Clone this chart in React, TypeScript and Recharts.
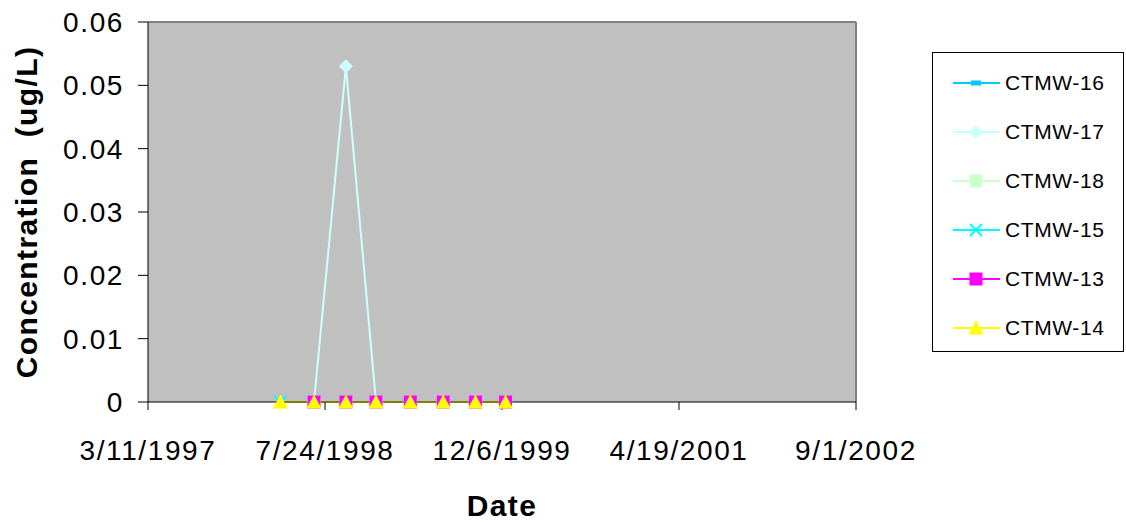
import React from "react";
import {
  LineChart,
  Line,
  XAxis,
  YAxis,
  CartesianGrid,
  Legend,
  ReferenceLine,
} from "recharts";

const FONT = '"Liberation Sans", Arial, sans-serif';

// sampling dates (quarterly)
const dates = [
  "3/20/1998",
  "6/23/1998",
  "9/21/1998",
  "12/15/1998",
  "3/22/1999",
  "6/23/1999",
  "9/22/1999",
  "12/16/1999",
];

const ctmw16 = [null, 0, 0, 0, 0, 0, 0, 0];
const ctmw17 = [null, 0, 0.053, 0, 0, 0, 0, 0];
const ctmw18 = [null, 0, 0, 0, 0, 0, 0, 0];
const ctmw15 = [0, 0, 0, 0, 0, 0, 0, 0];
const ctmw13 = [null, 0, 0, 0, 0, 0, 0, 0];
const ctmw14 = [0, 0, 0, 0, 0, 0, 0, 0];

const xTickLabels = ["3/11/1997", "7/24/1998", "12/6/1999", "4/19/2001", "9/1/2002"];
const yTicks = [0, 0.01, 0.02, 0.03, 0.04, 0.05, 0.06];

const toTime = (s: string) => {
  const [m, d, y] = s.split("/").map(Number);
  return Date.UTC(y, m - 1, d);
};

const fmtDate = (t: number) => {
  const d = new Date(t);
  return `${d.getUTCMonth() + 1}/${d.getUTCDate()}/${d.getUTCFullYear()}`;
};

const xTicks = xTickLabels.map(toTime);

const series = [
  { key: "CTMW-16", values: ctmw16, color: "#00CCFF", shape: "dash" },
  { key: "CTMW-17", values: ctmw17, color: "#CCFFFF", shape: "diamond" },
  { key: "CTMW-18", values: ctmw18, color: "#CCFFCC", shape: "square" },
  { key: "CTMW-15", values: ctmw15, color: "#00FFFF", shape: "cross" },
  { key: "CTMW-13", values: ctmw13, color: "#FF00FF", shape: "square" },
  { key: "CTMW-14", values: ctmw14, color: "#FFFF00", shape: "triangle" },
];

const data = dates.map((d, i) => {
  const row: Record<string, number | null> = { date: toTime(d) };
  series.forEach((s) => {
    row[s.key] = s.values[i];
  });
  return row;
});

function Marker({ shape, color, cx, cy }: { shape: string; color: string; cx: number; cy: number }) {
  switch (shape) {
    case "dash":
      return <rect x={cx - 5} y={cy - 2.5} width={10} height={5} fill={color} />;
    case "diamond":
      return (
        <polygon
          points={`${cx},${cy - 7} ${cx + 7},${cy} ${cx},${cy + 7} ${cx - 7},${cy}`}
          fill={color}
        />
      );
    case "square":
      return <rect x={cx - 6.5} y={cy - 6.5} width={13} height={13} fill={color} />;
    case "cross":
      return (
        <g stroke={color} strokeWidth={2}>
          <line x1={cx - 6} y1={cy - 6} x2={cx + 6} y2={cy + 6} />
          <line x1={cx - 6} y1={cy + 6} x2={cx + 6} y2={cy - 6} />
        </g>
      );
    case "triangle":
      return (
        <polygon
          points={`${cx},${cy - 7.5} ${cx + 7.5},${cy + 6.5} ${cx - 7.5},${cy + 6.5}`}
          fill={color}
        />
      );
    default:
      return null;
  }
}

const makeDot = (shape: string, color: string) => (props: any) => {
  const { cx, cy, key, index } = props;
  if (cx == null || cy == null || props.value == null) return <g key={key ?? index} />;
  return (
    <g key={key ?? index}>
      <Marker shape={shape} color={color} cx={cx} cy={cy} />
    </g>
  );
};

const YLabel = (props: any) => {
  const vb = props.viewBox || { x: 0, y: 22, width: 148, height: 380 };
  const cx = 26;
  const cy = vb.y + vb.height / 2;
  return (
    <text
      x={cx}
      y={cy}
      transform={`rotate(-90 ${cx} ${cy})`}
      textAnchor="middle"
      dominantBaseline="central"
      fontFamily={FONT}
      fontWeight="bold"
      fontSize={30}
      letterSpacing={1.4}
      fill="#000"
      style={{ whiteSpace: "pre" }}
    >
      Concentration  (ug/L)
    </text>
  );
};

const XLabel = (props: any) => {
  const vb = props.viewBox || { x: 148, y: 402, width: 708, height: 120 };
  return (
    <text
      x={vb.x + vb.width / 2}
      y={516}
      textAnchor="middle"
      fontFamily={FONT}
      fontWeight="bold"
      fontSize={30}
      letterSpacing={1.4}
      fill="#000"
    >
      Date
    </text>
  );
};

const renderLegend = () => (
  <div
    style={{
      width: 192,
      height: 300,
      border: "1px solid #000",
      boxSizing: "border-box",
      position: "relative",
      background: "#fff",
      fontFamily: FONT,
      fontSize: 21,
      color: "#000",
    }}
  >
    {series.map((s, i) => (
      <div
        key={s.key}
        style={{
          position: "absolute",
          left: 20,
          top: 30 + i * 49 - 12,
          height: 24,
          display: "flex",
          alignItems: "center",
          whiteSpace: "nowrap",
        }}
      >
        <svg width={48} height={24} style={{ display: "block" }}>
          <line x1={0} y1={12} x2={47} y2={12} stroke={s.color} strokeWidth={2} />
          <Marker shape={s.shape} color={s.color} cx={23} cy={12} />
        </svg>
        <span style={{ marginLeft: 4, letterSpacing: 0.6 }}>{s.key}</span>
      </div>
    ))}
  </div>
);

export default function App() {
  return (
    <div style={{ position: "absolute", left: 0, top: 0, width: 1126, height: 522, background: "#fff" }}>
      <LineChart
        width={1126}
        height={522}
        data={data}
        margin={{ top: 22, right: 78, bottom: 0, left: 0 }}
      >
        <CartesianGrid fill="#C0C0C0" horizontal={false} vertical={false} />
        <ReferenceLine y={0.06} stroke="#808080" strokeWidth={2} />
        <ReferenceLine x={xTicks[xTicks.length - 1]} stroke="#808080" strokeWidth={2} />
        <XAxis
          dataKey="date"
          type="number"
          scale="time"
          domain={[xTicks[0], xTicks[xTicks.length - 1]]}
          ticks={xTicks}
          tickFormatter={fmtDate}
          height={120}
          stroke="#000"
          tickSize={8}
          tickMargin={30}
          tick={{ fill: "#000", fontSize: 28, fontFamily: FONT, letterSpacing: 1.6 }}
          label={<XLabel />}
          interval={0}
        />
        <YAxis
          type="number"
          domain={[0, 0.06]}
          ticks={yTicks}
          width={148}
          stroke="#000"
          tickSize={10}
          tickMargin={14}
          tickFormatter={(v: number) => String(v)}
          tick={{ fill: "#000", fontSize: 28, fontFamily: FONT, letterSpacing: 1.6 }}
          label={<YLabel />}
          interval={0}
        />
        <Legend
          layout="vertical"
          verticalAlign="top"
          align="right"
          wrapperStyle={{ left: 932, top: 52, width: 192, height: 300 }}
          content={renderLegend}
        />
        {series.map((s) => (
          <Line
            key={s.key}
            type="linear"
            dataKey={s.key}
            name={s.key}
            stroke={s.color}
            strokeWidth={2}
            dot={makeDot(s.shape, s.color)}
            activeDot={false}
            isAnimationActive={false}
          />
        ))}
      </LineChart>
    </div>
  );
}
